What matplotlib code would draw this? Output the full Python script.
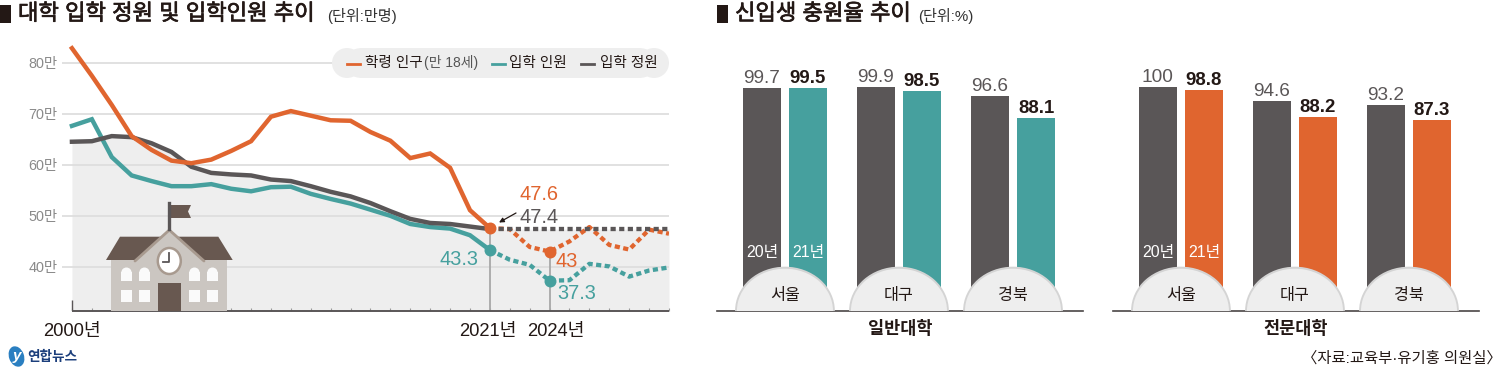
# -*- coding: utf-8 -*-
import numpy as np
import matplotlib
matplotlib.use('Agg')
import matplotlib.pyplot as plt
import matplotlib.patheffects as pe
from matplotlib.patches import Ellipse, FancyBboxPatch, Polygon, Rectangle

plt.rcParams['font.family'] = ['Liberation Sans', 'Noto Sans CJK KR', 'DejaVu Sans']

W, H = 1500, 375
ORANGE = '#e0652f'
TEAL = '#46a09e'
GRAY = '#5a5657'
DARK = '#231815'
AREA = '#eeeeee'
BROWN = '#685850'

years = np.arange(2000, 2031)
population = [82.8, 77.4, 71.7, 65.6, 62.9, 60.8, 60.3, 61.0, 62.7, 64.6, 69.4,
              70.5, 69.6, 68.7, 68.6, 66.4, 64.7, 61.3, 62.2, 59.4, 51.1, 47.6,
              47.4, 43.9, 43.0, 45.0, 47.8, 44.3, 43.4, 47.3, 46.5]
entrants = [67.6, 68.9, 61.5, 57.9, 56.8, 55.8, 55.8, 56.2, 55.3, 54.8, 55.6,
            55.7, 54.3, 53.3, 52.4, 51.2, 50.0, 48.4, 47.8, 47.5, 46.2, 43.3,
            41.4, 40.4, 37.3, 37.4, 40.6, 40.1, 38.1, 39.3, 39.9]
quota = [64.5, 64.6, 65.6, 65.4, 64.2, 62.5, 59.6, 58.4, 58.1, 57.9, 57.1,
         56.8, 55.8, 54.7, 53.8, 52.5, 50.9, 49.4, 48.6, 48.4, 47.9, 47.4,
         47.4, 47.4, 47.4, 47.4, 47.4, 47.4, 47.4, 47.4, 47.4]
y_ticks = [40, 50, 60, 70, 80]
y_tick_labels = ['40만', '50만', '60만', '70만', '80만']
last_actual = 21  # index of 2021

regions = ['서울', '대구', '경북']
general_20 = [99.7, 99.9, 96.6]
general_21 = [99.5, 98.5, 88.1]
college_20 = [100, 94.6, 93.2]
college_21 = [98.8, 88.2, 87.3]


def px_axes(fig, x0, y0, x1, y1):
    return fig.add_axes([x0 / W, 1 - y1 / H, (x1 - x0) / W, (y1 - y0) / H])


def plot_trend(ax):
    ax.set_xlim(1999.5, 2030)
    ax.set_ylim(31.43, 84.41)
    for s in ax.spines.values():
        s.set_visible(False)
    ax.patch.set_alpha(0)
    ax.fill_between(years, quota, 31.43, color=AREA, lw=0, zorder=1)
    ax.set_yticks(y_ticks, y_tick_labels)
    ax.yaxis.grid(True, color='#dcdcdc', lw=1.2, zorder=2)
    ax.set_axisbelow(False)
    ax.tick_params(axis='y', length=0, pad=3, labelsize=10.4, labelcolor='#8a8a8a')
    ax.set_xticks(years, [''] * len(years))
    ax.tick_params(axis='x', direction='in', length=2.5, width=0.8, color='#999999', pad=0)
    ax.hlines(31.43, 2000, 2030, color=GRAY, lw=1.4, zorder=6, clip_on=False)
    ax.vlines(2000, 31.43, 33.6, color=GRAY, lw=1, zorder=6)

    ax.vlines(2021, 31.43, population[last_actual], color='#a8a8a8', lw=1.3, zorder=3)
    ax.vlines(2024, 31.43, population[24], color='#a8a8a8', lw=1.3, zorder=3)

    n = last_actual + 1
    dots = (0, (1.2, 0.8))
    for values, color, z in [(entrants, TEAL, 4), (quota, GRAY, 5), (population, ORANGE, 6)]:
        ax.plot(years[:n], values[:n], color=color, lw=3.2, zorder=z, solid_joinstyle='miter')
    ax.plot(years[n - 1:], population[n - 1:], color=ORANGE, lw=3.1, ls=dots, zorder=4)
    ax.plot(years[n - 1:], entrants[n - 1:], color=TEAL, lw=3.1, ls=dots, zorder=4)
    ax.plot(years[n - 1:], quota[n - 1:], color=GRAY, lw=3.1, ls=dots, zorder=5)

    ax.plot([2021, 2024], [entrants[21], entrants[24]], 'o', color=TEAL, ms=8.6, mew=0, zorder=7)
    ax.plot([2021, 2024], [population[21], population[24]], 'o', color=ORANGE, ms=8.6, mew=0, zorder=7)

    for label, year, dx in [('2000년', 2000, 0), ('2021년', 2021, -2), ('2024년', 2024, 6)]:
        ax.annotate(label, (year, 31.43), xytext=(dx * 0.72, -9), textcoords='offset points',
                    ha='center', va='top', fontsize=13.2, color=DARK, annotation_clip=False)

    for text, year, value, color, dx, dy, ha in [
            ('47.6', 2021, population[21], ORANGE, 21, 20, 'left'),
            ('47.4', 2021, quota[21], GRAY, 21, 4.5, 'left'),
            ('43.3', 2021, entrants[21], TEAL, -8, -11, 'right'),
            ('43', 2024, population[24], ORANGE, 4.3, -11.3, 'left'),
            ('37.3', 2024, entrants[24], TEAL, 5.8, -13, 'left')]:
        ax.annotate(text, (year, value), xytext=(dx, dy), textcoords='offset points',
                    ha=ha, va='baseline', fontsize=14.4, color=color, zorder=8)


def plot_bars(ax, title, first, second, color):
    x = np.arange(len(regions))
    ax.set_xlim(-0.596, 2.614)
    ax.set_ylim(12.4, 118.5)
    for name in ['top', 'left', 'right']:
        ax.spines[name].set_visible(False)
    ax.spines['bottom'].set_color('#4a4545')
    ax.spines['bottom'].set_linewidth(1.2)
    ax.set_xticks([])
    ax.set_yticks([])
    ax.set_xlabel(title, fontsize=12.6, fontweight='bold', color=DARK, labelpad=7)
    ax.bar(x - 0.202, first, 0.329, bottom=0, color=GRAY, zorder=2)
    ax.bar(x + 0.202, second, 0.329, bottom=0, color=color, zorder=2)
    for i, region in enumerate(regions):
        ax.add_patch(Ellipse((i, 12.4), 0.875, 34.5, fc='#d4d4d4', ec='none', zorder=3))
        ax.add_patch(Ellipse((i, 12.4), 0.842, 32.9, fc=AREA, ec='none', zorder=4))
        ax.text(i, 18.5, region, ha='center', va='center', fontsize=11.7, color=DARK, zorder=5)
        ax.annotate(str(first[i]), (i - 0.202, first[i]), xytext=(0, 3.6), textcoords='offset points',
                    ha='center', va='baseline', fontsize=13.7, color=GRAY)
        ax.annotate(str(second[i]), (i + 0.202, second[i]), xytext=(0, 3.6), textcoords='offset points',
                    ha='center', va='baseline', fontsize=13.4, fontweight='bold', color=DARK)
    ax.text(-0.202, 35.4, '20년', ha='center', va='center', fontsize=11.4, color='white', zorder=3)
    ax.text(0.202, 35.4, '21년', ha='center', va='center', fontsize=11.4, color='white', zorder=3)


def draw_school(ov):
    body = '#cbc6c1'
    trim = '#a89a8f'
    ov.add_patch(Rectangle((111.3, 260), 116, 50.7, fc=body, ec='none'))
    ov.add_patch(Polygon([(120, 236.7), (218.3, 236.7), (232.7, 260), (106, 260)], fc=BROWN, ec='none'))
    ov.add_patch(Polygon([(135, 261), (169.3, 230), (204, 261)], fc=body, ec='none'))
    ov.plot([135, 169.3, 204], [261, 230, 261], color=trim, lw=2, solid_capstyle='round')
    ov.plot([169.3, 169.3], [203, 229], color=GRAY, lw=2.4)
    ov.add_patch(Polygon([(171, 205), (191, 205), (188, 211.5), (191, 218), (171, 218)], fc=BROWN, ec='none'))
    ov.add_patch(Ellipse((169.3, 261), 23, 26, fc='white', ec=trim, lw=1.8))
    ov.plot([169.3, 169.3, 162.7], [253, 261.7, 261.7], color=GRAY, lw=1.3)
    for x0 in [121.3, 139.3, 189.3, 207.3]:
        ov.add_patch(Rectangle((x0, 272), 10.3, 9, fc='#fafafa', ec='none'))
        ov.add_patch(Ellipse((x0 + 5.15, 272.5), 10.3, 10, fc='#fafafa', ec='none'))
        ov.add_patch(Rectangle((x0, 290), 10.3, 11.5, fc='#fafafa', ec='none'))
    ov.add_patch(Rectangle((157.7, 282.7), 23.6, 28, fc=BROWN, ec='none'))


def draw_header(ov, x, title, unit, unit_x):
    ov.add_patch(Rectangle((x, 5), 11, 18, fc=DARK, ec='none'))
    ov.text(x + 18, 14.5, title, fontsize=16, color=DARK, ha='left', va='center',
            path_effects=[pe.withStroke(linewidth=0.5, foreground=DARK)])
    ov.text(unit_x, 16, unit, fontsize=10.9, color='#333333', ha='left', va='center')


fig = plt.figure(figsize=(W / 100, H / 100), dpi=100)

ax_trend = px_axes(fig, 62, 40, 669, 310.7)
plot_trend(ax_trend)
plot_bars(px_axes(fig, 717, 40, 1083, 310.7), '일반대학', general_20, general_21, TEAL)
plot_bars(px_axes(fig, 1113, 40, 1479, 310.7), '전문대학', college_20, college_21, ORANGE)

# overlay in pixel units for titles, legend pill, school and logo
ov = fig.add_axes([0, 0, 1, 1], zorder=10)
ov.set_xlim(0, W)
ov.set_ylim(H, 0)
ov.axis('off')

draw_header(ov, 0, '대학 입학 정원 및 입학인원 추이', '(단위:만명)', 327)
draw_header(ov, 717, '신입생 충원율 추이', '(단위:%)', 918)
draw_school(ov)

ov.add_patch(FancyBboxPatch((347, 48), 307, 30, boxstyle='round,pad=0,rounding_size=15',
                            mutation_aspect=1, fc=AREA, ec='none', zorder=1))
ov.add_patch(Ellipse((347, 63), 30, 30, fc=AREA, ec='none', zorder=1))
ov.add_patch(Ellipse((654, 63), 30, 30, fc=AREA, ec='none', zorder=1))
for x0, x1, color in [(347, 360, ORANGE), (491.5, 505, TEAL), (580.5, 594, GRAY)]:
    ov.plot([x0, x1], [64, 64], color=color, lw=2, zorder=2)
ov.text(365, 62.5, '학령 인구', fontsize=10.5, color=DARK, va='center', zorder=2)
ov.text(424, 62.5, '(만 18세)', fontsize=10, color='#555555', va='center', zorder=2)
ov.text(509, 62.5, '입학 인원', fontsize=10.5, color=DARK, va='center', zorder=2)
ov.text(600, 62.5, '입학 정원', fontsize=10.5, color=DARK, va='center', zorder=2)

ov.annotate('', xy=(499, 222.5), xytext=(516, 213),
            arrowprops=dict(arrowstyle='-|>', color=DARK, lw=0.9, mutation_scale=7, shrinkA=0, shrinkB=0))

ov.text(1502, 358, '〈자료:교육부·유기홍 의원실〉', fontsize=11.1, color=DARK, ha='right', va='center')

ov.add_patch(Ellipse((16.5, 356.5), 15, 21, angle=-20, fc='#2a7fc1', ec='none'))
ov.text(16.5, 356, 'y', fontsize=11, fontstyle='italic', fontweight='bold', color='white', ha='center', va='center')
ov.text(27, 356.5, '연합뉴스', fontsize=9.8, fontweight='bold', color='#1c3f7c', ha='left', va='center')

fig.savefig('out.png', dpi=100)
